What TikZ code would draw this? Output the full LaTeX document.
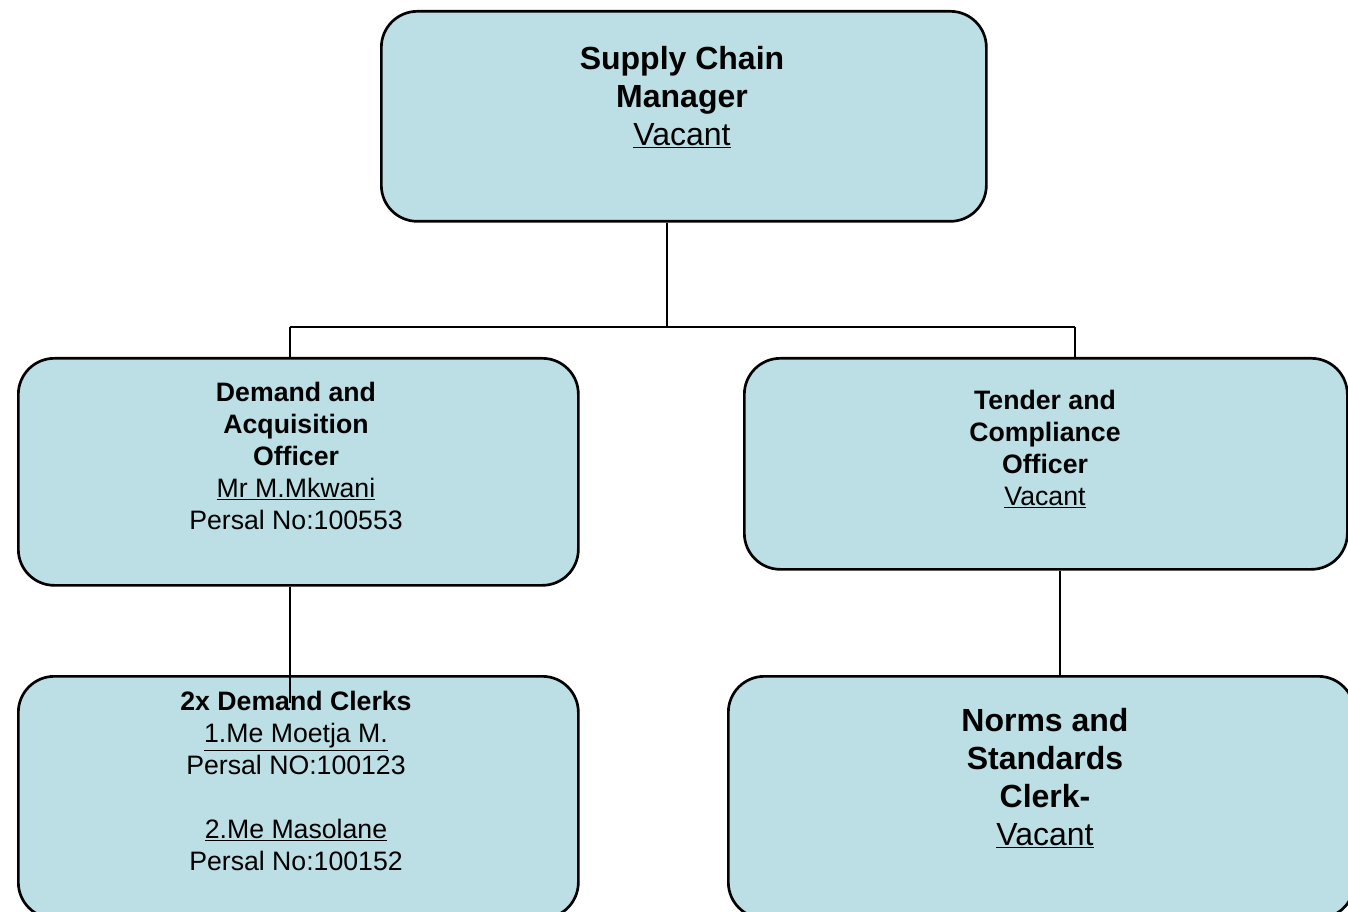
\documentclass[tikz,border=0pt]{standalone}
\usepackage{fontspec}
\setmainfont{Liberation Sans}
\usetikzlibrary{positioning}
\definecolor{boxblue}{HTML}{BBDFE4}

\begin{document}
\begin{tikzpicture}[x=0.75pt,y=-0.75pt,
    post/.style={draw=black, line width=2pt, fill=boxblue, rounded corners=27pt,
      anchor=north west, inner sep=0pt},
    big/.style={align=center, font=\fontsize{24}{28.5}\selectfont},
    small/.style={align=center, font=\fontsize{20}{24}\selectfont},
    link/.style={line width=2pt}]
    \useasboundingbox (0,0) rectangle (1348,912);
    \clip (0,0) rectangle (1348,912);
    % Boxes
    \node[post, minimum width=453.75pt, minimum height=157.5pt] (manager) at (380,10) {};
    \node[post, minimum width=420pt, minimum height=170.25pt] (demand) at (17,357) {};
    \node[post, minimum width=452.25pt, minimum height=158.25pt] (tender) at (743,357) {};
    \node[post, minimum width=420pt, minimum height=181.5pt] (clerks) at (17,675) {};
    \node[post, minimum width=469.5pt, minimum height=181.5pt] (norms) at (727,675) {};
    % Texts
    \node[big] (managerText) at (682,97) {\textbf{Supply Chain}\\ \textbf{Manager}\\ \underline{Vacant}};
    \node[small] (demandText) at (296,456) {\textbf{Demand and}\\ \textbf{Acquisition}\\ \textbf{Officer}\\ \underline{Mr M.Mkwani}\\ Persal No:100553};
    \node[small] (tenderText) at (1045,449) {\textbf{Tender and}\\ \textbf{Compliance}\\ \textbf{Officer}\\ \underline{Vacant}};
    \node[small] (clerksText) at (296,781) {\textbf{2x Demand Clerks}\\ \underline{1.Me Moetja M.}\\ Persal NO:100123\\[24pt] \underline{2.Me Masolane}\\ Persal No:100152};
    \node[big] (normsText) at (1045,778) {\textbf{Norms and}\\ \textbf{Standards}\\ \textbf{Clerk-}\\ \underline{Vacant}};
    % Connectors
    \coordinate (fork) at (667,327);
    \coordinate (forkL) at (290,327);
    \coordinate (forkR) at (1075,327);
    \coordinate (clerkEnd) at (290,703);
    \coordinate (normsTop) at (1060,675);
    \draw[link] (fork |- manager.south) -- (fork);
    \draw[link] (forkL) -- (forkR);
    \draw[link] (forkL) -- (forkL |- demand.north);
    \draw[link] (forkR) -- (forkR |- tender.north);
    \draw[link] (clerkEnd |- demand.south) -- (clerkEnd);
    \draw[link] (normsTop |- tender.south) -- (normsTop |- norms.north);
\end{tikzpicture}
\end{document}
